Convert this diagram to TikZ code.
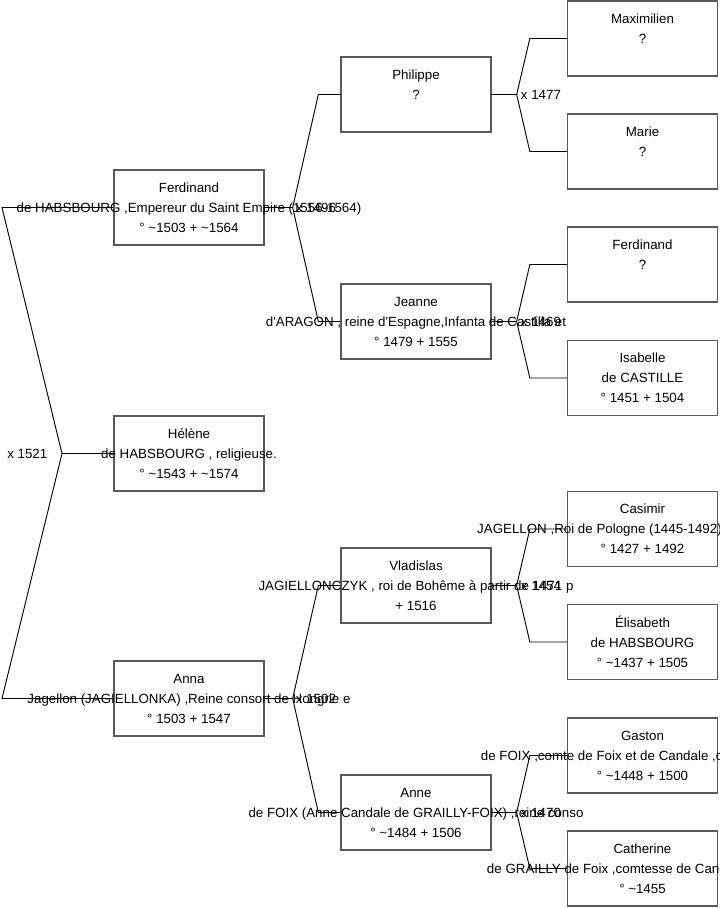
\documentclass[tikz,border=0pt]{standalone}
\usepackage{fontspec}
\setmainfont{Liberation Sans}
\usetikzlibrary{calc}

\newcommand\pline[1]{\makebox[0pt]{#1}}
\newcommand\ca{\textasciitilde}
\newcommand\ap{\textquotesingle}

\tikzset{
  pbox/.style={draw=black!65, line width=1pt, rectangle, minimum width=112.5pt,
    minimum height=56.25pt, inner sep=0pt, align=center,
    font=\fontsize{10}{15}\selectfont},
  link/.style={draw=black, line width=0.7pt},
  mariage/.style={font=\fontsize{10}{12}\selectfont, inner sep=0pt}
}

\begin{document}
\begin{tikzpicture}[x=0.75pt,y=-0.75pt]
\clip (0,0) rectangle (719,908);

% generation 1
\node[pbox] (ferdinand) at (189,207.5) {\pline{Ferdinand}\\\pline{de HABSBOURG ,Empereur du Saint Empire (1556-1564)}\\\pline{° \ca1503 + \ca1564}};
\node[pbox] (helene) at (189,453.5) {\pline{Hélène}\\\pline{de HABSBOURG , religieuse.}\\\pline{° \ca1543 + \ca1574}};
\node[pbox] (anna) at (189,698.5) {\pline{Anna}\\\pline{Jagellon (JAGIELLONKA) ,Reine consort de Hongrie e}\\\pline{° 1503 + 1547}};

% generation 2
\node[pbox] (philippe) at (416,94.5) {\pline{Philippe}\\\pline{?}\\\pline{\phantom{0}}};
\node[pbox] (jeanne) at (416,321.5) {\pline{Jeanne}\\\pline{d\ap ARAGON , reine d\ap Espagne,Infanta de Castilla et}\\\pline{° 1479 + 1555}};
\node[pbox] (vladislas) at (416,585.5) {\pline{Vladislas}\\\pline{JAGIELLONCZYK , roi de Bohême à partir de 1471 p}\\\pline{+ 1516}};
\node[pbox] (anne) at (416,812.5) {\pline{Anne}\\\pline{de FOIX (Anne Candale de GRAILLY-FOIX) ,reine conso}\\\pline{° \ca1484 + 1506}};

% generation 3
\node[pbox] (maximilien) at (642.5,38.5) {\pline{Maximilien}\\\pline{?}\\\pline{\phantom{0}}};
\node[pbox] (marie) at (642.5,151.5) {\pline{Marie}\\\pline{?}\\\pline{\phantom{0}}};
\node[pbox] (ferdinandb) at (642.5,264.5) {\pline{Ferdinand}\\\pline{?}\\\pline{\phantom{0}}};
\node[pbox] (isabelle) at (642.5,378) {\pline{Isabelle}\\\pline{de CASTILLE}\\\pline{° 1451 + 1504}};
\node[pbox] (casimir) at (642.5,529) {\pline{Casimir}\\\pline{JAGELLON ,Roi de Pologne (1445-1492) ,grand-duc de}\\\pline{° 1427 + 1492}};
\node[pbox] (elisabeth) at (642.5,642) {\pline{Élisabeth}\\\pline{de HABSBOURG}\\\pline{° \ca1437 + 1505}};
\node[pbox] (gaston) at (642.5,755.5) {\pline{Gaston}\\\pline{de FOIX ,comte de Foix et de Candale ,captal de Buch}\\\pline{° \ca1448 + 1500}};
\node[pbox] (catherine) at (642.5,868.5) {\pline{Catherine}\\\pline{de GRAILLY de Foix ,comtesse de Candale et de Be}\\\pline{° \ca1455}};

% Ferdinand x Anna
\coordinate (lt) at (2,207.5);
\coordinate (lv) at (62,453.5);
\coordinate (lb) at (2,698.5);
\draw[link] (ferdinand.west) -- (lt) -- (lv) -- (lb) -- (anna.west);
\draw[link] (lv) -- (helene.west);
\node[mariage,anchor=west] at ($(lt|-lv)+(5,0)$) {x 1521};

% parents of generation 1
\draw[link] (ferdinand.east) -- ++(28,0) coordinate (fv) -- ($(philippe.west)+(-22,0)$) -- (philippe.west);
\draw[link] (fv) -- ($(jeanne.west)+(-22,0)$) -- (jeanne.west);
\node[mariage,anchor=west] at ($(fv)+(3,0)$) {x 1496};
\draw[link] (anna.east) -- ++(28,0) coordinate (av) -- ($(vladislas.west)+(-22,0)$) -- (vladislas.west);
\draw[link] (av) -- ($(anne.west)+(-22,0)$) -- (anne.west);
\node[mariage,anchor=west] at ($(av)+(3,0)$) {x 1502};

% parents of generation 2
\foreach \enf/\pere/\mere/\an in {philippe/maximilien/marie/1477, jeanne/ferdinandb/isabelle/1469,
    vladislas/casimir/elisabeth/1454, anne/gaston/catherine/1470} {
  \draw[link] (\enf.east) -- ++(25,0) coordinate (v) -- ($(\pere.west)+(-37,0)$) -- (\pere.west);
  \draw[link] (v) -- ($(\mere.west)+(-37,0)$) -- (\mere.west);
  \node[mariage,anchor=west] at ($(v)+(4,0)$) {x \an};
}
\end{tikzpicture}
\end{document}
